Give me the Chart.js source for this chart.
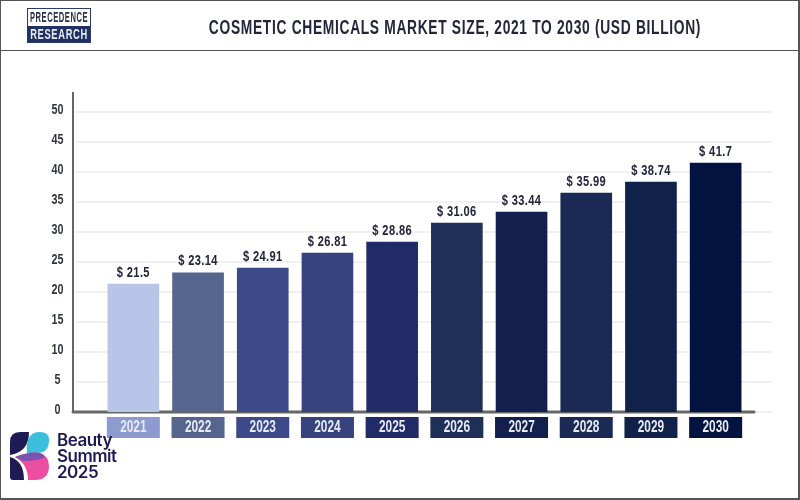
<!DOCTYPE html>
<html>
<head>
<meta charset="utf-8">
<title>Cosmetic Chemicals Market Size</title>
<script src="https://cdn.jsdelivr.net/npm/chart.js@4/dist/chart.umd.min.js"></script>
<style>
  html, body { margin: 0; padding: 0; background: #fff; }
  #page { position: relative; width: 800px; height: 500px; overflow: hidden; font-family: "Liberation Sans", sans-serif; }
  #frame { position: absolute; left: 0; top: 0; width: 797px; height: 497px; border: 1px solid #555; border-width: 1px 2px 2px 1px; pointer-events: none; }
  #divider { position: absolute; left: 0; top: 50px; width: 800px; height: 1px; background: #555; }
  #heading { position: absolute; left: 455px; top: 15px; font-size: 20px; line-height: 24px; font-weight: bold; color: #23253a; letter-spacing: 1px; white-space: nowrap; }
  #logo { position: absolute; left: 27px; top: 8px; width: 64px; height: 35px; box-sizing: border-box; border: 1px solid #2a3a6c; }
  #logo .top, #logo .bottom { position: absolute; left: 0; width: 62px; height: 16.5px; overflow: hidden; }
  #logo .top { top: 0; }
  #logo .bottom { top: 16.5px; background: #1f3163; }
  #logo span { position: absolute; left: 31px; top: 0; font-weight: bold; font-size: 14px; line-height: 17px; white-space: nowrap; letter-spacing: 1px; }
  #logo .top span { color: #2a3047; }
  #logo .bottom span { color: #e8ebf3; }
  canvas { position: absolute; left: 0; top: 0; }
  #summit { position: absolute; left: 10px; top: 432px; }
  #summitText { position: absolute; left: 57px; top: 432px; font-family: Inter, sans-serif; font-weight: 600; font-size: 17px; line-height: 16px; color: #1e1b54; letter-spacing: -0.5px; }
</style>
</head>
<body>
<div id="page">
  <canvas id="marketChart" width="800" height="500"></canvas>
  <div id="divider"></div>
  <div id="logo"><div class="top"><span data-fit="58">PRECEDENCE</span></div><div class="bottom"><span data-fit="58">RESEARCH</span></div></div>
  <div id="heading" data-fit="492">COSMETIC CHEMICALS MARKET SIZE, 2021 TO 2030 (USD BILLION)</div>
  <svg id="summit" width="40" height="48" viewBox="0 0 40 48">
    <path d="M0 23 L0 10 Q0 0 10 0 L19 0 Q19 20 0 23 Z" fill="#1e1b54"/>
    <path d="M0 25 Q14 29 14 48 L3 48 Q0 48 0 45 Z" fill="#1e1b54"/>
    <path d="M17 21 Q15 0 30 0 Q39 0 39 8 Q39 21 27 21 Z" fill="#3cbfdc"/>
    <path d="M5 25 Q20 19 30 21 Q39 24 39 34 Q39 48 25 48 L18 48 Q18 32 5 25 Z" fill="#ec4f9f"/>
    <path d="M5 25 Q20 19 30 21 Q33 22 35 25 Q28 29 13 29 Q9 27 5 25 Z" fill="#7b52ad"/>
  </svg>
  <div id="summitText">Beauty<br>Summit<br>2025</div>
  <div id="frame"></div>
</div>

<script>
/* ------ chart data ------ */
const years = ["2021", "2022", "2023", "2024", "2025", "2026", "2027", "2028", "2029", "2030"];
// printed above the bars
const printedValues = ["21.5", "23.14", "24.91", "26.81", "28.86", "31.06", "33.44", "35.99", "38.74", "41.7"];
// bar heights as read against the y axis, the picture does not draw them quite to the printed numbers
const barHeights = [21.3, 23.2, 24, 26.5, 28.3, 31.5, 33.3, 36.5, 38.3, 41.5];
const barColors = ["#b7c5e8", "#56658d", "#3d4a8a", "#36437f", "#212b68", "#1f3058", "#131f4c", "#1a2a55", "#10214a", "#03133f"];
const badgeColors = ["#8e9bd0", "#56658d", "#3d4a8a", "#36437f", "#212b68", "#1f3058", "#131f4c", "#1a2a55", "#10214a", "#03133f"];

const labelFont = '"Liberation Sans", sans-serif';

// no condensed font is installed, so squeeze the text sideways
function narrowText(ctx, text, x, y, squeeze) {
  ctx.save();
  ctx.translate(x, y);
  ctx.scale(squeeze, 1);
  ctx.fillText(text, 0, 0);
  ctx.restore();
}

// same thing for the html headings
document.querySelectorAll("[data-fit]").forEach(el => {
  const squeeze = Number(el.dataset.fit) / el.offsetWidth;
  el.style.transform = `translateX(-50%) scaleX(${squeeze})`;
});

// faint grid and the two axis lines run past the bars, so they are drawn by hand
const frameLines = {
  id: "frameLines",
  beforeDatasetsDraw(chart) {
    const { ctx, scales: { y } } = chart;
    const base = y.getPixelForValue(0);
    ctx.save();
    ctx.strokeStyle = "#f1f1f1";
    ctx.lineWidth = 2;
    y.ticks.forEach(t => {
      const py = y.getPixelForValue(t.value);
      ctx.beginPath();
      ctx.moveTo(75, py);
      ctx.lineTo(772, py);
      ctx.stroke();
    });
    ctx.strokeStyle = "#666";
    ctx.lineWidth = 2;
    ctx.beginPath();
    ctx.moveTo(73, 92);
    ctx.lineTo(73, base + 1);
    ctx.stroke();
    ctx.lineWidth = 3;
    ctx.lineCap = "round";
    ctx.beginPath();
    ctx.moveTo(73, base);
    ctx.lineTo(754, base);
    ctx.stroke();
    ctx.restore();
  }
};

// year badges, tick labels and "$ 21.5" labels above each bar
const textLayer = {
  id: "textLayer",
  afterDatasetsDraw(chart) {
    const { ctx, scales: { x, y } } = chart;
    const base = y.getPixelForValue(0);
    ctx.save();
    ctx.textBaseline = "middle";
    ctx.textAlign = "center";

    ctx.font = "bold 16px " + labelFont;
    years.forEach((yr, i) => {
      const px = x.getPixelForTick(i);
      ctx.fillStyle = badgeColors[i];
      ctx.fillRect(px - 26.5, base + 5, 53, 21);
      ctx.fillStyle = "#e8ebf4";
      narrowText(ctx, yr, px, base + 16, 0.74);
    });

    ctx.font = "bold 15px " + labelFont;
    ctx.fillStyle = "#33353f";
    y.ticks.forEach(t => {
      narrowText(ctx, String(t.value), 57.5, y.getPixelForValue(t.value) - 2, 0.72);
    });

    ctx.font = "bold 15px " + labelFont;
    ctx.letterSpacing = "0.5px";
    ctx.fillStyle = "#23253a";
    ctx.textBaseline = "bottom";
    chart.getDatasetMeta(0).data.forEach((bar, i) => {
      narrowText(ctx, "$ " + printedValues[i], bar.x, bar.y - 4, 0.74);
    });
    ctx.restore();
  }
};

new Chart(document.getElementById("marketChart"), {
  type: "bar",
  data: {
    labels: years,
    datasets: [{
      data: barHeights,
      backgroundColor: barColors,
      barThickness: 51
    }]
  },
  options: {
    responsive: false,
    animation: false,
    layout: { padding: { top: 112, right: 52, bottom: 47, left: 0 } },
    plugins: {
      legend: { display: false },
      tooltip: { enabled: false }
    },
    scales: {
      x: {
        grid: { display: false },
        border: { display: false },
        afterFit: s => { s.height = 41; },
        ticks: { display: false }
      },
      y: {
        min: 0,
        max: 50,
        grid: { display: false, drawTicks: false },
        border: { display: false },
        afterFit: s => { s.width = 101; },
        ticks: { display: false, stepSize: 5 }
      }
    }
  },
  plugins: [frameLines, textLayer]
});
</script>
</body>
</html>
